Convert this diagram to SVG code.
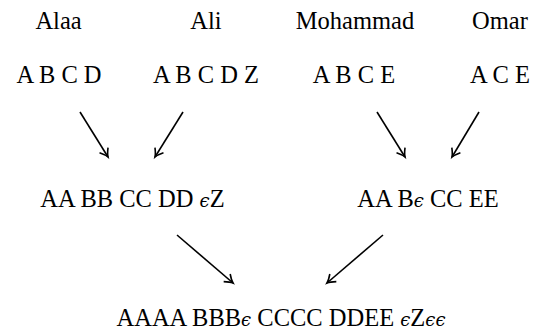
<svg xmlns="http://www.w3.org/2000/svg" width="539" height="335" viewBox="0 0 539 335">
<style>
text{font-family:"Liberation Serif","Times New Roman",serif;font-size:24.5px;fill:#000;text-anchor:middle}
.e{font-style:italic;font-family:"DejaVu Serif","Liberation Serif",serif;font-size:18px}
.c line{stroke:#000;stroke-width:1.6;fill:none}
</style>
<defs>
<marker id="ah" markerUnits="userSpaceOnUse" markerWidth="16" markerHeight="16" viewBox="-10 -8 12 16" refX="0" refY="0" orient="auto">
<path d="M -8 -5 Q -3 -1 0 0 Q -3 1 -8 5" fill="none" stroke="#000" stroke-width="1.6"/>
</marker>
</defs>
<rect width="539" height="335" fill="#fff"/>
<g id="alaa"><text x="58.5" y="29">Alaa</text><text x="59" y="83">A B C D</text></g>
<g id="ali"><text x="206" y="29">Ali</text><text x="206" y="83">A B C D Z</text></g>
<g id="mohammad"><text x="355" y="29">Mohammad</text><text x="354" y="83">A B C E</text></g>
<g id="omar"><text x="500" y="29">Omar</text><text x="500" y="83">A C E</text></g>
<g id="merge-left"><text x="132.5" y="207">AA BB CC DD <tspan class="e">ϵ</tspan>Z</text></g>
<g id="merge-right"><text x="428" y="207">AA B<tspan class="e">ϵ</tspan> CC EE</text></g>
<g id="merge-all"><text x="281" y="326">AAAA BBB<tspan class="e">ϵ</tspan> CCCC DDEE <tspan class="e">ϵ</tspan>Z<tspan class="e">ϵϵ</tspan></text></g>
<g class="c" id="connectors">
<line x1="80" y1="112" x2="108" y2="157" marker-end="url(#ah)"/>
<line x1="183" y1="112" x2="155" y2="157" marker-end="url(#ah)"/>
<line x1="377" y1="112" x2="405" y2="157" marker-end="url(#ah)"/>
<line x1="479" y1="112" x2="452" y2="157" marker-end="url(#ah)"/>
<line x1="177" y1="235" x2="233" y2="283" marker-end="url(#ah)"/>
<line x1="383" y1="235" x2="327" y2="283" marker-end="url(#ah)"/>
</g>
</svg>
